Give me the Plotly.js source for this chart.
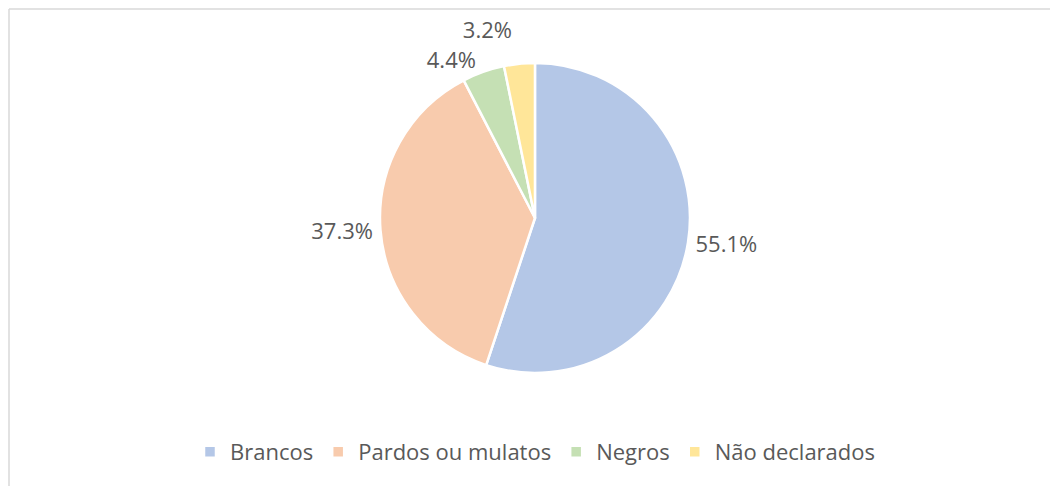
<!DOCTYPE html>
<html>
<head>
<meta charset="utf-8">
<script src="https://cdn.plot.ly/plotly-3.0.1.min.js"></script>
<style>html,body{margin:0;padding:0;background:#fff;}#chart{width:1050px;height:486px;} path.textline{display:none;}</style>
</head>
<body>
<div id="chart"></div>
<script>
var categories = ["Brancos", "Pardos ou mulatos", "Negros", "Não declarados"];
var values = [55.1, 37.3, 4.4, 3.2];
var colors = ["#b4c7e7", "#f8cbad", "#c5e0b4", "#ffe699"];

var trace = {
  type: "pie",
  labels: categories,
  values: values,
  sort: false,
  direction: "clockwise",
  rotation: 0,
  marker: {colors: colors, line: {color: "#ffffff", width: 2.5}},
  textinfo: "percent",
  texttemplate: "%{percent:.1%}",
  textposition: "outside",
  outsidetextfont: {family: "Open Sans, sans-serif", size: 22, color: "#595959"},
  automargin: false,
  domain: {x: [0.3619, 0.6571], y: [0.2325, 0.8704]},
  hoverinfo: "label+percent"
};

var layout = {
  width: 1050, height: 486,
  margin: {l: 0, r: 0, t: 0, b: 0},
  paper_bgcolor: "#ffffff",
  showlegend: true,
  legend: {
    orientation: "h", x: 0.51, xanchor: "center", y: 0.07, yanchor: "middle",
    font: {family: "Open Sans, sans-serif", size: 22, color: "#595959"},
    itemwidth: 30, traceorder: "normal"
  },
  shapes: [
    {type: "line", xref: "paper", yref: "paper", x0: 9/1050, x1: 1, y0: 1 - 9/486, y1: 1 - 9/486, line: {color: "#d9d9d9", width: 1.5}},
    {type: "line", xref: "paper", yref: "paper", x0: 9/1050, x1: 9/1050, y0: 0, y1: 1 - 9/486, line: {color: "#d9d9d9", width: 1.5}}
  ]
};

Plotly.newPlot("chart", [trace], layout, {displayModeBar: false, staticPlot: true});
</script>
</body>
</html>
